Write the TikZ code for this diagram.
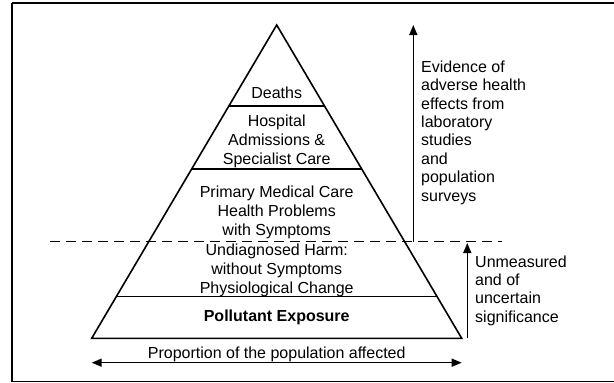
\documentclass[tikz,border=0pt]{standalone}
\usepackage{fontspec}
\setmainfont{Liberation Sans}
\usetikzlibrary{arrows.meta,calc}
\begin{document}
\begin{tikzpicture}[x=1pt,y=-1pt,
  pline/.style={line width=1.6pt},
  lbl/.style={font=\fontsize{16}{19}\selectfont, align=center, inner sep=0pt},
  side/.style={font=\fontsize{16}{18.4}\selectfont, align=left, inner sep=0pt, anchor=west},
  arr/.style={line width=1.5pt, -{Triangle[length=10pt,width=8pt]}},
  darr/.style={line width=1.5pt, {Triangle[length=10pt,width=8pt]}-{Triangle[length=10pt,width=8pt]}},
]
\useasboundingbox (0,0) rectangle (614,383);
% frame
\draw[line width=2.5pt] (12,3) -- (614,3);
\draw[line width=1.6pt] (12,3) -- (12,381.5) -- (614,381.5);
% pyramid
\coordinate (A) at (276.7,25);
\coordinate (BL) at (91.7,338.3);
\coordinate (BR) at (461.7,338.3);
\draw[pline, line join=miter] (A) -- (BL) -- (BR) -- cycle;
\draw[pline] ($(A)!0.2576!(BL)$) -- ($(A)!0.2576!(BR)$);
\draw[pline] ($(A)!0.4596!(BL)$) -- ($(A)!0.4596!(BR)$);
\draw[pline] ($(A)!0.8672!(BL)$) -- ($(A)!0.8672!(BR)$);
% dashed divider
\coordinate (d0) at (50,241.5);
\coordinate (d1) at (502,241.5);
\draw[line width=1.8pt, dash pattern=on 10pt off 6pt] (d0) -- (d1);
% texts in pyramid
\node[lbl] (deaths) at (276.7,93) {Deaths};
\node[lbl] (hosp) at (276.7,141) {Hospital\\Admissions \&\\Specialist Care};
\node[lbl] (prim) at (276.7,212) {Primary Medical Care\\Health Problems\\with Symptoms};
\node[lbl] (undiag) at (276.7,270.5) {Undiagnosed Harm:\\without Symptoms\\Physiological Change};
\node[lbl, font=\fontsize{16}{19}\selectfont\bfseries] (poll) at (276.7,317.3) {Pollutant Exposure};
% bottom arrow
\coordinate (p0) at (91.7,362.7);
\coordinate (p1) at (461.7,362.7);
\draw[darr] (p0) -- (p1);
\node[lbl] (prop) at (276.7,354) {Proportion of the population affected};
% right arrows
\coordinate (ua0) at (413.3,241.5);
\coordinate (ua1) at (413.3,25);
\draw[arr] (ua0) -- (ua1);
\node[side] (evid) at (421,132.5) {Evidence of\\adverse health\\effects from\\laboratory\\studies\\and\\population\\surveys};
\coordinate (la0) at (467.3,338);
\coordinate (la1) at (467.3,243);
\draw[arr] (la0) -- (la1);
\node[side] (unm) at (475,290.5) {Unmeasured\\and of\\uncertain\\significance};
\end{tikzpicture}
\end{document}
